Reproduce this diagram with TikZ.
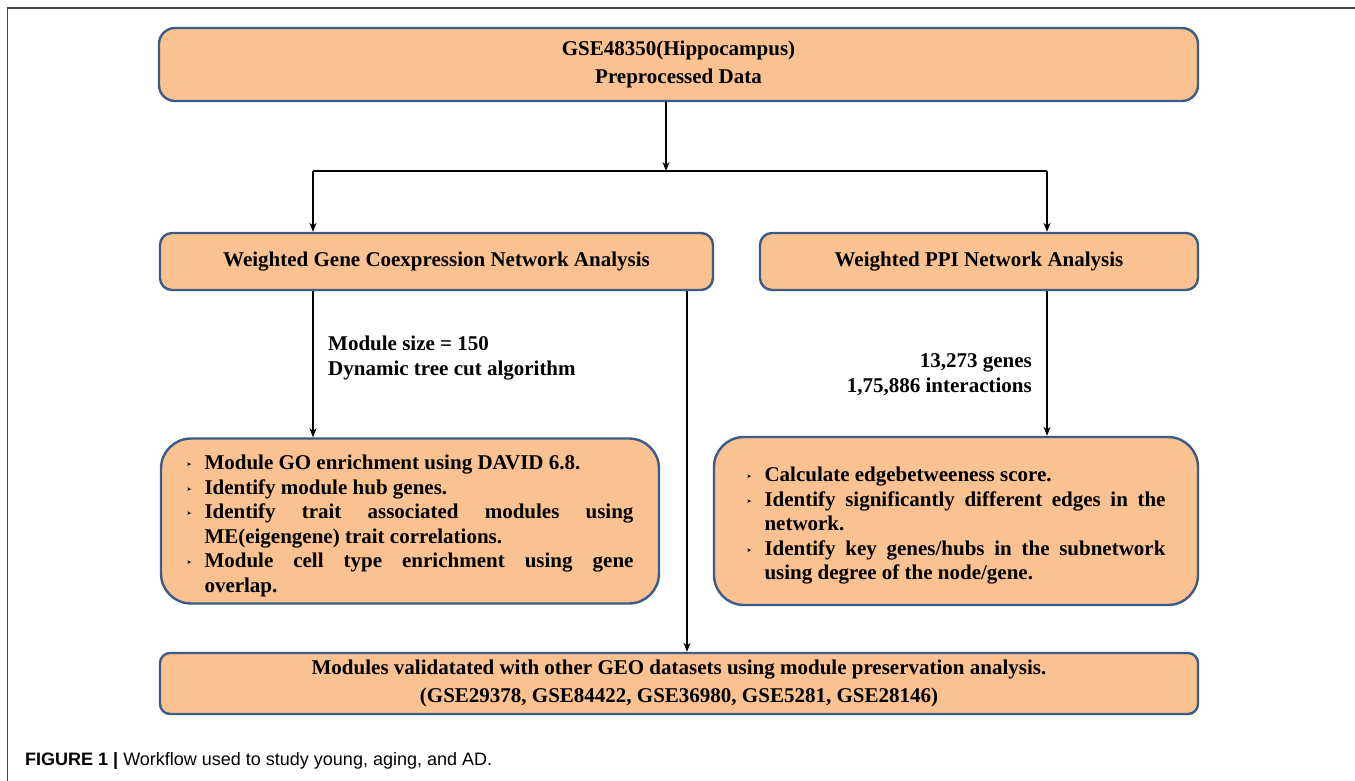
\documentclass[tikz,border=0pt]{standalone}
\usepackage{fontspec}
\setmainfont{Liberation Serif}
\newfontfamily\capsans{Liberation Sans}
\newfontfamily\symfont{DejaVu Sans}
\usetikzlibrary{arrows.meta}

\definecolor{boxfill}{RGB}{250,193,145}
\definecolor{boxline}{RGB}{60,92,136}
\definecolor{framegray}{RGB}{70,70,70}

% bullet and item macro for the list boxes
\newcommand{\arrowbullet}{\raisebox{3pt}{\symfont\fontsize{6}{6}\selectfont ➤}}
\newcommand{\nohyph}{\hyphenpenalty=10000 \exhyphenpenalty=10000 }
\newcommand{\bitem}[1]{\par\noindent\hangindent=18pt\hangafter=1\makebox[18pt][l]{\arrowbullet}#1\par}

\tikzset{
  flowbox/.style={draw=boxline, line width=2.4pt, fill=boxfill, rounded corners=12pt,
    align=center, inner sep=0pt},
  listbox/.style={draw=boxline, line width=2.4pt, fill=boxfill, rounded corners=30pt,
    align=justify, inner ysep=0pt},
  arr/.style={line width=2pt, -{Stealth[length=9pt,width=7pt]}},
  plain/.style={line width=2pt},
  bodytext/.style={font=\fontsize{21}{25}\selectfont\bfseries},
  listtext/.style={font=\fontsize{21}{24.5}\selectfont\bfseries},
}

\begin{document}
\begin{tikzpicture}[x=1pt,y=-1pt]
\useasboundingbox (0,0) rectangle (1355,781);

% figure frame (top and left edges)
\draw[framegray, line width=1.6pt] (7.5,781) -- (7.5,8) -- (1355,8);

% boxes
\node[flowbox, font=\fontsize{21}{28}\selectfont\bfseries, rounded corners=16pt,
      minimum width=1039pt, minimum height=73pt] (top) at (678.5,64.5)
  {GSE48350(Hippocampus)\\Preprocessed Data};

\node[flowbox, bodytext, minimum width=553pt, minimum height=57pt] (wg) at (436.5,261.5)
  {Weighted Gene Coexpression Network Analysis};

\node[flowbox, bodytext, minimum width=438pt, minimum height=57pt] (ppi) at (979,261.5)
  {Weighted PPI Network Analysis};

\node[listbox, listtext, text width=447pt, inner xsep=25.5pt, minimum height=165pt] (ll) at (410,521) {%
  \nohyph
  \bitem{Module GO enrichment using DAVID 6.8.}%
  \bitem{Identify module hub genes.}%
  \bitem{Identify trait associated modules using\linebreak ME(eigengene) trait correlations.}%
  \bitem{Module cell type enrichment using gene\linebreak overlap.}};

\node[listbox, listtext, text width=419pt, inner xsep=32.5pt, minimum height=168pt] (rl) at (956,521) {%
  \nohyph
  \bitem{Calculate edgebetweeness score.}%
  \bitem{Identify significantly different edges in the\linebreak network.}%
  \bitem{Identify key genes/hubs in the subnetwork\linebreak using degree of the node/gene.}};

\node[flowbox, font=\fontsize{21}{28}\selectfont\bfseries, rounded corners=10pt,
      minimum width=1038pt, minimum height=61pt] (bot) at (679,683.5)
  {Modules validatated with other GEO datasets using module preservation analysis.\\
   (GSE29378, GSE84422, GSE36980, GSE5281, GSE28146)};

% connector labels
\node[bodytext, align=left, anchor=west, inner sep=0pt] (lbl1) at (328,358)
  {Module size = 150\\Dynamic tree cut algorithm};
\node[bodytext, align=right, anchor=east, inner sep=0pt] (lbl2) at (1032,375)
  {13,273 genes\\1,75,886 interactions};

% caption
\node[anchor=west, inner sep=0pt, font=\capsans\fontsize{18}{21}\selectfont] (cap) at (25,761)
  {\textbf{FIGURE 1 |} Workflow used to study young, aging, and AD.};

% connectors
\coordinate (split) at (666,171);
\coordinate (splitl) at (313,171);
\coordinate (splitr) at (1047,171);
\coordinate (longx) at (687,0);

\draw[arr] (top.south -| split) -- (split);
\draw[plain] (splitl) -- (splitr);
\draw[arr] (splitl) -- (splitl |- wg.north);
\draw[arr] (splitr) -- (splitr |- ppi.north);
\draw[arr] (wg.south -| splitl) -- (ll.north -| splitl);
\draw[arr] (wg.south -| longx) -- (bot.north -| longx);
\draw[arr] (ppi.south -| splitr) -- (rl.north -| splitr);
\end{tikzpicture}
\end{document}
